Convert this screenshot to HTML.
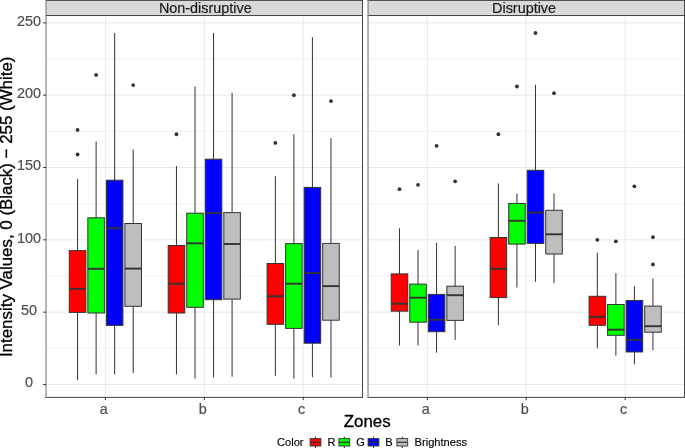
<!DOCTYPE html>
<html><head><meta charset="utf-8"><title>Intensity values by zone</title>
<style>html,body{margin:0;padding:0;background:#fff}svg{display:block;will-change:transform}text{font-family:"Liberation Sans",Arial,Helvetica,sans-serif}</style>
</head><body>
<svg width="685" height="448" viewBox="0 0 685 448">
<rect width="685" height="448" fill="#fff"/>
<line x1="46.05" x2="362.5" y1="384.50" y2="384.50" stroke="#e8e8e8" stroke-width="1.0"/>
<line x1="46.05" x2="362.5" y1="348.33" y2="348.33" stroke="#e8e8e8" stroke-width="0.6"/>
<line x1="46.05" x2="362.5" y1="312.17" y2="312.17" stroke="#e8e8e8" stroke-width="1.0"/>
<line x1="46.05" x2="362.5" y1="276.00" y2="276.00" stroke="#e8e8e8" stroke-width="0.6"/>
<line x1="46.05" x2="362.5" y1="239.84" y2="239.84" stroke="#e8e8e8" stroke-width="1.0"/>
<line x1="46.05" x2="362.5" y1="203.68" y2="203.68" stroke="#e8e8e8" stroke-width="0.6"/>
<line x1="46.05" x2="362.5" y1="167.51" y2="167.51" stroke="#e8e8e8" stroke-width="1.0"/>
<line x1="46.05" x2="362.5" y1="131.35" y2="131.35" stroke="#e8e8e8" stroke-width="0.6"/>
<line x1="46.05" x2="362.5" y1="95.18" y2="95.18" stroke="#e8e8e8" stroke-width="1.0"/>
<line x1="46.05" x2="362.5" y1="59.02" y2="59.02" stroke="#e8e8e8" stroke-width="0.6"/>
<line x1="46.05" x2="362.5" y1="22.85" y2="22.85" stroke="#e8e8e8" stroke-width="1.0"/>
<line x1="105.38" x2="105.38" y1="15.5" y2="397.4" stroke="#e8e8e8" stroke-width="1"/>
<line x1="204.27" x2="204.27" y1="15.5" y2="397.4" stroke="#e8e8e8" stroke-width="1"/>
<line x1="303.16" x2="303.16" y1="15.5" y2="397.4" stroke="#e8e8e8" stroke-width="1"/>
<circle cx="77.57" cy="129.90" r="1.9" fill="#333"/>
<circle cx="77.57" cy="154.49" r="1.9" fill="#333"/>
<line x1="77.57" x2="77.57" y1="179.08" y2="250.60" stroke="#333" stroke-width="1"/>
<line x1="77.57" x2="77.57" y1="312.40" y2="380.16" stroke="#333" stroke-width="1"/>
<rect x="69.29" y="250.60" width="16.55" height="61.80" fill="#ff0000" stroke="#333" stroke-width="1"/>
<line x1="69.29" x2="85.84" y1="288.80" y2="288.80" stroke="#333" stroke-width="1.9"/>
<circle cx="96.11" cy="74.93" r="1.9" fill="#333"/>
<line x1="96.11" x2="96.11" y1="141.47" y2="217.80" stroke="#333" stroke-width="1"/>
<line x1="96.11" x2="96.11" y1="313.00" y2="374.37" stroke="#333" stroke-width="1"/>
<rect x="87.83" y="217.80" width="16.55" height="95.20" fill="#00ff00" stroke="#333" stroke-width="1"/>
<line x1="87.83" x2="104.39" y1="268.77" y2="268.77" stroke="#333" stroke-width="1.9"/>
<line x1="114.65" x2="114.65" y1="32.98" y2="180.20" stroke="#333" stroke-width="1"/>
<line x1="114.65" x2="114.65" y1="325.40" y2="374.37" stroke="#333" stroke-width="1"/>
<rect x="106.37" y="180.20" width="16.55" height="145.20" fill="#0000ff" stroke="#333" stroke-width="1"/>
<line x1="106.37" x2="122.92" y1="228.27" y2="228.27" stroke="#333" stroke-width="1.9"/>
<circle cx="133.19" cy="85.10" r="1.9" fill="#333"/>
<line x1="133.19" x2="133.19" y1="149.40" y2="223.50" stroke="#333" stroke-width="1"/>
<line x1="133.19" x2="133.19" y1="306.30" y2="373.00" stroke="#333" stroke-width="1"/>
<rect x="124.91" y="223.50" width="16.55" height="82.80" fill="#bebebe" stroke="#333" stroke-width="1"/>
<line x1="124.91" x2="141.47" y1="268.60" y2="268.60" stroke="#333" stroke-width="1.9"/>
<circle cx="176.46" cy="134.24" r="1.9" fill="#333"/>
<line x1="176.46" x2="176.46" y1="166.06" y2="245.50" stroke="#333" stroke-width="1"/>
<line x1="176.46" x2="176.46" y1="313.00" y2="374.37" stroke="#333" stroke-width="1"/>
<rect x="168.19" y="245.50" width="16.55" height="67.50" fill="#ff0000" stroke="#333" stroke-width="1"/>
<line x1="168.19" x2="184.74" y1="283.70" y2="283.70" stroke="#333" stroke-width="1.9"/>
<line x1="195.00" x2="195.00" y1="86.50" y2="213.20" stroke="#333" stroke-width="1"/>
<line x1="195.00" x2="195.00" y1="307.30" y2="378.71" stroke="#333" stroke-width="1"/>
<rect x="186.72" y="213.20" width="16.55" height="94.10" fill="#00ff00" stroke="#333" stroke-width="1"/>
<line x1="186.72" x2="203.28" y1="243.30" y2="243.30" stroke="#333" stroke-width="1.9"/>
<line x1="213.54" x2="213.54" y1="32.98" y2="159.20" stroke="#333" stroke-width="1"/>
<line x1="213.54" x2="213.54" y1="299.70" y2="377.27" stroke="#333" stroke-width="1"/>
<rect x="205.27" y="159.20" width="16.55" height="140.50" fill="#0000ff" stroke="#333" stroke-width="1"/>
<line x1="205.27" x2="221.82" y1="213.00" y2="213.00" stroke="#333" stroke-width="1.9"/>
<line x1="232.08" x2="232.08" y1="92.90" y2="212.60" stroke="#333" stroke-width="1"/>
<line x1="232.08" x2="232.08" y1="299.10" y2="376.70" stroke="#333" stroke-width="1"/>
<rect x="223.81" y="212.60" width="16.55" height="86.50" fill="#bebebe" stroke="#333" stroke-width="1"/>
<line x1="223.81" x2="240.36" y1="244.00" y2="244.00" stroke="#333" stroke-width="1.9"/>
<circle cx="275.35" cy="142.92" r="1.9" fill="#333"/>
<line x1="275.35" x2="275.35" y1="176.19" y2="263.50" stroke="#333" stroke-width="1"/>
<line x1="275.35" x2="275.35" y1="324.30" y2="375.82" stroke="#333" stroke-width="1"/>
<rect x="267.08" y="263.50" width="16.55" height="60.80" fill="#ff0000" stroke="#333" stroke-width="1"/>
<line x1="267.08" x2="283.62" y1="296.26" y2="296.26" stroke="#333" stroke-width="1.9"/>
<circle cx="293.89" cy="95.18" r="1.9" fill="#333"/>
<line x1="293.89" x2="293.89" y1="134.24" y2="243.60" stroke="#333" stroke-width="1"/>
<line x1="293.89" x2="293.89" y1="328.40" y2="378.71" stroke="#333" stroke-width="1"/>
<rect x="285.62" y="243.60" width="16.55" height="84.80" fill="#00ff00" stroke="#333" stroke-width="1"/>
<line x1="285.62" x2="302.17" y1="283.70" y2="283.70" stroke="#333" stroke-width="1.9"/>
<line x1="312.43" x2="312.43" y1="37.32" y2="187.40" stroke="#333" stroke-width="1"/>
<line x1="312.43" x2="312.43" y1="343.20" y2="377.27" stroke="#333" stroke-width="1"/>
<rect x="304.16" y="187.40" width="16.55" height="155.80" fill="#0000ff" stroke="#333" stroke-width="1"/>
<line x1="304.16" x2="320.70" y1="273.11" y2="273.11" stroke="#333" stroke-width="1.9"/>
<circle cx="330.97" cy="101.10" r="1.9" fill="#333"/>
<line x1="330.97" x2="330.97" y1="138.10" y2="243.40" stroke="#333" stroke-width="1"/>
<line x1="330.97" x2="330.97" y1="320.20" y2="377.50" stroke="#333" stroke-width="1"/>
<rect x="322.70" y="243.40" width="16.55" height="76.80" fill="#bebebe" stroke="#333" stroke-width="1"/>
<line x1="322.70" x2="339.25" y1="286.10" y2="286.10" stroke="#333" stroke-width="1.9"/>
<rect x="46.05" y="0" width="316.45" height="15.5" fill="#d9d9d9"/>
<line x1="45.55" x2="363.0" y1="0.4" y2="0.4" stroke="#454545" stroke-width="1"/>
<line x1="45.55" x2="363.0" y1="15.5" y2="15.5" stroke="#454545" stroke-width="1"/>
<line x1="45.55" x2="363.0" y1="397.4" y2="397.4" stroke="#454545" stroke-width="1"/>
<line x1="46.05" x2="46.05" y1="0" y2="397.9" stroke="#7a7a7a" stroke-width="1.1"/>
<line x1="362.5" x2="362.5" y1="0" y2="397.9" stroke="#454545" stroke-width="1"/>
<line x1="105.38" x2="105.38" y1="397.4" y2="400.09999999999997" stroke="#333" stroke-width="1"/>
<text x="103.88" y="414.0" font-size="14.4" fill="#4d4d4d" stroke="#4d4d4d" stroke-width="0.2" text-anchor="middle">a</text>
<line x1="204.27" x2="204.27" y1="397.4" y2="400.09999999999997" stroke="#333" stroke-width="1"/>
<text x="202.77" y="414.0" font-size="14.4" fill="#4d4d4d" stroke="#4d4d4d" stroke-width="0.2" text-anchor="middle">b</text>
<line x1="303.16" x2="303.16" y1="397.4" y2="400.09999999999997" stroke="#333" stroke-width="1"/>
<text x="301.66" y="414.0" font-size="14.4" fill="#4d4d4d" stroke="#4d4d4d" stroke-width="0.2" text-anchor="middle">c</text>
<line x1="368.05" x2="684.5" y1="384.50" y2="384.50" stroke="#e8e8e8" stroke-width="1.0"/>
<line x1="368.05" x2="684.5" y1="348.33" y2="348.33" stroke="#e8e8e8" stroke-width="0.6"/>
<line x1="368.05" x2="684.5" y1="312.17" y2="312.17" stroke="#e8e8e8" stroke-width="1.0"/>
<line x1="368.05" x2="684.5" y1="276.00" y2="276.00" stroke="#e8e8e8" stroke-width="0.6"/>
<line x1="368.05" x2="684.5" y1="239.84" y2="239.84" stroke="#e8e8e8" stroke-width="1.0"/>
<line x1="368.05" x2="684.5" y1="203.68" y2="203.68" stroke="#e8e8e8" stroke-width="0.6"/>
<line x1="368.05" x2="684.5" y1="167.51" y2="167.51" stroke="#e8e8e8" stroke-width="1.0"/>
<line x1="368.05" x2="684.5" y1="131.35" y2="131.35" stroke="#e8e8e8" stroke-width="0.6"/>
<line x1="368.05" x2="684.5" y1="95.18" y2="95.18" stroke="#e8e8e8" stroke-width="1.0"/>
<line x1="368.05" x2="684.5" y1="59.02" y2="59.02" stroke="#e8e8e8" stroke-width="0.6"/>
<line x1="368.05" x2="684.5" y1="22.85" y2="22.85" stroke="#e8e8e8" stroke-width="1.0"/>
<line x1="427.30" x2="427.30" y1="15.5" y2="397.4" stroke="#e8e8e8" stroke-width="1"/>
<line x1="526.20" x2="526.20" y1="15.5" y2="397.4" stroke="#e8e8e8" stroke-width="1"/>
<line x1="625.15" x2="625.15" y1="15.5" y2="397.4" stroke="#e8e8e8" stroke-width="1"/>
<circle cx="399.49" cy="189.21" r="1.9" fill="#333"/>
<line x1="399.49" x2="399.49" y1="228.27" y2="273.90" stroke="#333" stroke-width="1"/>
<line x1="399.49" x2="399.49" y1="311.15" y2="345.44" stroke="#333" stroke-width="1"/>
<rect x="391.22" y="273.90" width="16.55" height="37.25" fill="#ff0000" stroke="#333" stroke-width="1"/>
<line x1="391.22" x2="407.76" y1="303.65" y2="303.65" stroke="#333" stroke-width="1.9"/>
<circle cx="418.03" cy="184.87" r="1.9" fill="#333"/>
<line x1="418.03" x2="418.03" y1="249.97" y2="284.10" stroke="#333" stroke-width="1"/>
<line x1="418.03" x2="418.03" y1="322.20" y2="345.44" stroke="#333" stroke-width="1"/>
<rect x="409.76" y="284.10" width="16.55" height="38.10" fill="#00ff00" stroke="#333" stroke-width="1"/>
<line x1="409.76" x2="426.31" y1="297.70" y2="297.70" stroke="#333" stroke-width="1.9"/>
<circle cx="436.57" cy="145.81" r="1.9" fill="#333"/>
<line x1="436.57" x2="436.57" y1="242.73" y2="294.40" stroke="#333" stroke-width="1"/>
<line x1="436.57" x2="436.57" y1="331.70" y2="352.67" stroke="#333" stroke-width="1"/>
<rect x="428.30" y="294.40" width="16.55" height="37.30" fill="#0000ff" stroke="#333" stroke-width="1"/>
<line x1="428.30" x2="444.84" y1="319.80" y2="319.80" stroke="#333" stroke-width="1.9"/>
<circle cx="455.11" cy="181.30" r="1.9" fill="#333"/>
<line x1="455.11" x2="455.11" y1="245.95" y2="286.20" stroke="#333" stroke-width="1"/>
<line x1="455.11" x2="455.11" y1="320.40" y2="339.90" stroke="#333" stroke-width="1"/>
<rect x="446.84" y="286.20" width="16.55" height="34.20" fill="#bebebe" stroke="#333" stroke-width="1"/>
<line x1="446.84" x2="463.38" y1="295.20" y2="295.20" stroke="#333" stroke-width="1.9"/>
<circle cx="498.39" cy="134.24" r="1.9" fill="#333"/>
<line x1="498.39" x2="498.39" y1="183.42" y2="237.50" stroke="#333" stroke-width="1"/>
<line x1="498.39" x2="498.39" y1="297.60" y2="325.19" stroke="#333" stroke-width="1"/>
<rect x="490.12" y="237.50" width="16.55" height="60.10" fill="#ff0000" stroke="#333" stroke-width="1"/>
<line x1="490.12" x2="506.67" y1="268.77" y2="268.77" stroke="#333" stroke-width="1.9"/>
<circle cx="516.93" cy="86.50" r="1.9" fill="#333"/>
<line x1="516.93" x2="516.93" y1="193.55" y2="203.45" stroke="#333" stroke-width="1"/>
<line x1="516.93" x2="516.93" y1="244.10" y2="287.58" stroke="#333" stroke-width="1"/>
<rect x="508.66" y="203.45" width="16.55" height="40.65" fill="#00ff00" stroke="#333" stroke-width="1"/>
<line x1="508.66" x2="525.21" y1="220.80" y2="220.80" stroke="#333" stroke-width="1.9"/>
<circle cx="535.47" cy="32.98" r="1.9" fill="#333"/>
<line x1="535.47" x2="535.47" y1="85.05" y2="170.30" stroke="#333" stroke-width="1"/>
<line x1="535.47" x2="535.47" y1="243.40" y2="281.79" stroke="#333" stroke-width="1"/>
<rect x="527.20" y="170.30" width="16.55" height="73.10" fill="#0000ff" stroke="#333" stroke-width="1"/>
<line x1="527.20" x2="543.75" y1="212.60" y2="212.60" stroke="#333" stroke-width="1.9"/>
<circle cx="554.01" cy="93.15" r="1.9" fill="#333"/>
<line x1="554.01" x2="554.01" y1="193.50" y2="210.30" stroke="#333" stroke-width="1"/>
<line x1="554.01" x2="554.01" y1="254.00" y2="283.00" stroke="#333" stroke-width="1"/>
<rect x="545.74" y="210.30" width="16.55" height="43.70" fill="#bebebe" stroke="#333" stroke-width="1"/>
<line x1="545.74" x2="562.28" y1="234.30" y2="234.30" stroke="#333" stroke-width="1.9"/>
<circle cx="597.34" cy="239.84" r="1.9" fill="#333"/>
<line x1="597.34" x2="597.34" y1="252.86" y2="296.30" stroke="#333" stroke-width="1"/>
<line x1="597.34" x2="597.34" y1="325.30" y2="348.33" stroke="#333" stroke-width="1"/>
<rect x="589.07" y="296.30" width="16.55" height="29.00" fill="#ff0000" stroke="#333" stroke-width="1"/>
<line x1="589.07" x2="605.62" y1="316.85" y2="316.85" stroke="#333" stroke-width="1.9"/>
<circle cx="615.88" cy="241.29" r="1.9" fill="#333"/>
<line x1="615.88" x2="615.88" y1="273.11" y2="304.50" stroke="#333" stroke-width="1"/>
<line x1="615.88" x2="615.88" y1="335.30" y2="355.57" stroke="#333" stroke-width="1"/>
<rect x="607.61" y="304.50" width="16.55" height="30.80" fill="#00ff00" stroke="#333" stroke-width="1"/>
<line x1="607.61" x2="624.15" y1="329.70" y2="329.70" stroke="#333" stroke-width="1.9"/>
<circle cx="634.42" cy="186.32" r="1.9" fill="#333"/>
<line x1="634.42" x2="634.42" y1="286.13" y2="300.50" stroke="#333" stroke-width="1"/>
<line x1="634.42" x2="634.42" y1="351.95" y2="364.25" stroke="#333" stroke-width="1"/>
<rect x="626.14" y="300.50" width="16.55" height="51.45" fill="#0000ff" stroke="#333" stroke-width="1"/>
<line x1="626.14" x2="642.69" y1="339.80" y2="339.80" stroke="#333" stroke-width="1.9"/>
<circle cx="652.96" cy="237.20" r="1.9" fill="#333"/>
<circle cx="652.96" cy="264.50" r="1.9" fill="#333"/>
<line x1="652.96" x2="652.96" y1="278.50" y2="306.10" stroke="#333" stroke-width="1"/>
<line x1="652.96" x2="652.96" y1="332.20" y2="350.30" stroke="#333" stroke-width="1"/>
<rect x="644.68" y="306.10" width="16.55" height="26.10" fill="#bebebe" stroke="#333" stroke-width="1"/>
<line x1="644.68" x2="661.23" y1="326.20" y2="326.20" stroke="#333" stroke-width="1.9"/>
<rect x="368.05" y="0" width="316.45" height="15.5" fill="#d9d9d9"/>
<line x1="367.55" x2="685.0" y1="0.4" y2="0.4" stroke="#454545" stroke-width="1"/>
<line x1="367.55" x2="685.0" y1="15.5" y2="15.5" stroke="#454545" stroke-width="1"/>
<line x1="367.55" x2="685.0" y1="397.4" y2="397.4" stroke="#454545" stroke-width="1"/>
<line x1="368.05" x2="368.05" y1="0" y2="397.9" stroke="#7a7a7a" stroke-width="1.1"/>
<line x1="684.5" x2="684.5" y1="0" y2="397.9" stroke="#454545" stroke-width="1"/>
<line x1="427.30" x2="427.30" y1="397.4" y2="400.09999999999997" stroke="#333" stroke-width="1"/>
<text x="425.80" y="414.0" font-size="14.4" fill="#4d4d4d" stroke="#4d4d4d" stroke-width="0.2" text-anchor="middle">a</text>
<line x1="526.20" x2="526.20" y1="397.4" y2="400.09999999999997" stroke="#333" stroke-width="1"/>
<text x="524.70" y="414.0" font-size="14.4" fill="#4d4d4d" stroke="#4d4d4d" stroke-width="0.2" text-anchor="middle">b</text>
<line x1="625.15" x2="625.15" y1="397.4" y2="400.09999999999997" stroke="#333" stroke-width="1"/>
<text x="623.65" y="414.0" font-size="14.4" fill="#4d4d4d" stroke="#4d4d4d" stroke-width="0.2" text-anchor="middle">c</text>
<text x="205.28" y="12.8" font-size="14.4" fill="#1a1a1a" stroke="#1a1a1a" stroke-width="0.2" text-anchor="middle">Non-disruptive</text>
<text x="524.07" y="12.8" font-size="14.4" fill="#1a1a1a" stroke="#1a1a1a" stroke-width="0.2" text-anchor="middle">Disruptive</text>
<line x1="43.2" x2="46.05" y1="384.50" y2="384.50" stroke="#333" stroke-width="1"/>
<text x="29.1" y="387.40" font-size="14.4" fill="#4d4d4d" stroke="#4d4d4d" stroke-width="0.2" text-anchor="middle">0</text>
<line x1="43.2" x2="46.05" y1="312.17" y2="312.17" stroke="#333" stroke-width="1"/>
<text x="29.1" y="315.07" font-size="14.4" fill="#4d4d4d" stroke="#4d4d4d" stroke-width="0.2" text-anchor="middle">50</text>
<line x1="43.2" x2="46.05" y1="239.84" y2="239.84" stroke="#333" stroke-width="1"/>
<text x="29.1" y="242.74" font-size="14.4" fill="#4d4d4d" stroke="#4d4d4d" stroke-width="0.2" text-anchor="middle">100</text>
<line x1="43.2" x2="46.05" y1="167.51" y2="167.51" stroke="#333" stroke-width="1"/>
<text x="29.1" y="170.41" font-size="14.4" fill="#4d4d4d" stroke="#4d4d4d" stroke-width="0.2" text-anchor="middle">150</text>
<line x1="43.2" x2="46.05" y1="95.18" y2="95.18" stroke="#333" stroke-width="1"/>
<text x="29.1" y="98.08" font-size="14.4" fill="#4d4d4d" stroke="#4d4d4d" stroke-width="0.2" text-anchor="middle">200</text>
<line x1="43.2" x2="46.05" y1="22.85" y2="22.85" stroke="#333" stroke-width="1"/>
<text x="29.1" y="25.75" font-size="14.4" fill="#4d4d4d" stroke="#4d4d4d" stroke-width="0.2" text-anchor="middle">250</text>
<text x="367.2" y="426.5" font-size="16.9" fill="#000" stroke="#000" stroke-width="0.3" text-anchor="middle">Zones</text>
<text transform="translate(12.3,206.8) rotate(-90)" font-size="16.9" fill="#000" stroke="#000" stroke-width="0.3" text-anchor="middle">Intensity Values, 0 (Black) − 255 (White)</text>
<text x="277" y="446.0" font-size="11.1" fill="#000" stroke="#000" stroke-width="0.15">Color</text>
<line x1="315.5" x2="315.5" y1="436.6" y2="448" stroke="#333" stroke-width="1"/>
<rect x="310.10" y="438.6" width="10.8" height="7.4" fill="#ff0000" stroke="#333" stroke-width="0.9"/>
<line x1="310.10" x2="320.90" y1="442.3" y2="442.3" stroke="#333" stroke-width="1.2"/>
<text x="327.5" y="446.0" font-size="11.1" fill="#000" stroke="#000" stroke-width="0.15">R</text>
<line x1="344.3" x2="344.3" y1="436.6" y2="448" stroke="#333" stroke-width="1"/>
<rect x="338.90" y="438.6" width="10.8" height="7.4" fill="#00ff00" stroke="#333" stroke-width="0.9"/>
<line x1="338.90" x2="349.70" y1="442.3" y2="442.3" stroke="#333" stroke-width="1.2"/>
<text x="356.2" y="446.0" font-size="11.1" fill="#000" stroke="#000" stroke-width="0.15">G</text>
<line x1="373.5" x2="373.5" y1="436.6" y2="448" stroke="#333" stroke-width="1"/>
<rect x="368.10" y="438.6" width="10.8" height="7.4" fill="#0000ff" stroke="#333" stroke-width="0.9"/>
<line x1="368.10" x2="378.90" y1="442.3" y2="442.3" stroke="#333" stroke-width="1.2"/>
<text x="385.3" y="446.0" font-size="11.1" fill="#000" stroke="#000" stroke-width="0.15">B</text>
<line x1="402.3" x2="402.3" y1="436.6" y2="448" stroke="#333" stroke-width="1"/>
<rect x="396.90" y="438.6" width="10.8" height="7.4" fill="#bebebe" stroke="#333" stroke-width="0.9"/>
<line x1="396.90" x2="407.70" y1="442.3" y2="442.3" stroke="#333" stroke-width="1.2"/>
<text x="414.6" y="446.0" font-size="11.1" fill="#000" stroke="#000" stroke-width="0.15">Brightness</text>
</svg></body></html>
